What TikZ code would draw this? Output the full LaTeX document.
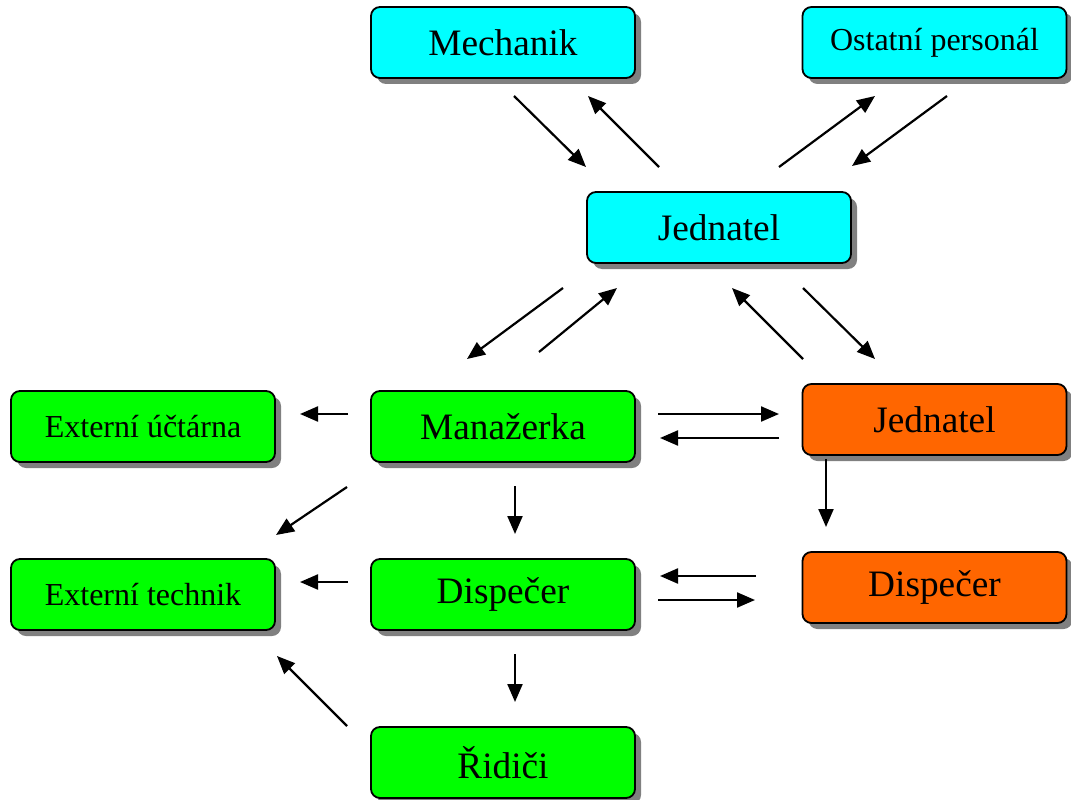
\documentclass[tikz,border=0pt]{standalone}
\usepackage{fontspec}
\setmainfont{Liberation Serif}
\usetikzlibrary{arrows.meta,shadows}
\tikzset{
  box/.style={draw=black, line width=1.8pt, rounded corners=9pt, minimum width=264pt, minimum height=71pt, inner sep=0pt,
    drop shadow={shadow xshift=6pt, shadow yshift=-6pt, fill=black!50, opacity=1}},
  cyanbox/.style={box, fill={rgb,255:red,0;green,255;blue,255}},
  greenbox/.style={box, fill={rgb,255:red,0;green,255;blue,0}},
  orangebox/.style={box, fill={rgb,255:red,255;green,102;blue,0}},
  big/.style={font=\fontsize{37.3pt}{40pt}\selectfont},
  small/.style={font=\fontsize{32pt}{36pt}\selectfont},
  conn/.style={line width=2.2pt, -{Triangle[length=18pt,width=15pt]}}
}
\begin{document}
\begin{tikzpicture}[x=1pt,y=-1pt]
\useasboundingbox (0,0) rectangle (1071,800);
\node[cyanbox,big] (mech) at (503,42.5) {Mechanik};
\node[cyanbox,small] (ost) at (934.5,42.5) {Ostatní personál};
\node[cyanbox,big] (jed) at (719,227.5) {Jednatel};
\node[greenbox,small] (ucet) at (143,426.5) {Externí účtárna};
\node[greenbox,big] (man) at (503,426.5) {Manažerka};
\node[orangebox,big] (jedo) at (934.5,419.5) {Jednatel};
\node[greenbox,small] (tech) at (143,594.5) {Externí technik};
\node[greenbox,big] (disp) at (503,594.5) {Dispečer};
\node[orangebox,big] (dispo) at (934.5,587.5) {Dispečer};
\node[greenbox,big] (rid) at (503,762.5) {Řidiči};
% connector end points
\coordinate (a1s) at (514,96);  \coordinate (a1e) at (586,167);
\coordinate (a2s) at (659,167); \coordinate (a2e) at (588,96);
\coordinate (a3s) at (779,167); \coordinate (a3e) at (875,96);
\coordinate (a4s) at (947,96);  \coordinate (a4e) at (852,166);
\coordinate (a5s) at (563,288); \coordinate (a5e) at (467,359);
\coordinate (a6s) at (539,352); \coordinate (a6e) at (617,288);
\coordinate (a7s) at (803,359); \coordinate (a7e) at (732,288);
\coordinate (a8s) at (803,288); \coordinate (a8e) at (875,359);
\coordinate (a9s) at (348,414); \coordinate (a9e) at (300,414);
\coordinate (a10s) at (658,414); \coordinate (a10e) at (779,414);
\coordinate (a11s) at (779,438); \coordinate (a11e) at (660,438);
\coordinate (a12s) at (826,459); \coordinate (a12e) at (826,527);
\coordinate (a13s) at (515,486); \coordinate (a13e) at (515,534);
\coordinate (a14s) at (347,487); \coordinate (a14e) at (276,535);
\coordinate (a15s) at (348,582); \coordinate (a15e) at (300,582);
\coordinate (a16s) at (756,576); \coordinate (a16e) at (660,576);
\coordinate (a17s) at (658,600); \coordinate (a17e) at (755,600);
\coordinate (a18s) at (515,654); \coordinate (a18e) at (515,702);
\coordinate (a19s) at (347,726); \coordinate (a19e) at (277,656);
\foreach \i in {1,...,19} {\draw[conn] (a\i s) -- (a\i e);}
\end{tikzpicture}
\end{document}
